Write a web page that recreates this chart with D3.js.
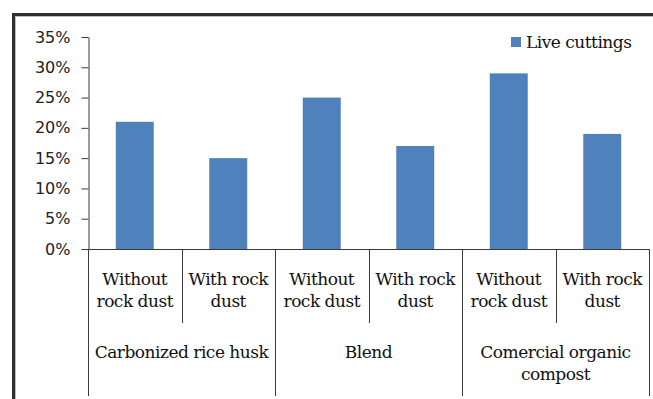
<!DOCTYPE html>
<html>
<head>
<meta charset="utf-8">
<script src="https://cdn.jsdelivr.net/npm/d3@7"></script>
<style>
  body { margin: 0; background: #fff; }
  svg { display: block; }
  text.serif { font-family: "DejaVu Serif", "Liberation Serif", serif; letter-spacing: -0.5px; }
  text.sans { font-family: "DejaVu Sans", sans-serif; }
</style>
</head>
<body>
<div id="chart"></div>
<script>
const width = 653;
const height = 399;

// data
const groups = ["Carbonized rice husk", "Blend", "Comercial organic compost"];
const treatments = ["Without rock dust", "With rock dust"];
const liveCuttings = [0.21, 0.15, 0.25, 0.17, 0.29, 0.19];
const yTicks = [0, 0.05, 0.10, 0.15, 0.20, 0.25, 0.30, 0.35];
const seriesName = "Live cuttings";

// label line breaks as in the original
const treatmentLines = { "Without rock dust": ["Without", "rock dust"], "With rock dust": ["With rock", "dust"] };
const groupLines = { "Carbonized rice husk": ["Carbonized rice husk"], "Blend": ["Blend"], "Comercial organic compost": ["Comercial organic", "compost"] };

const rows = [];
groups.forEach((g, gi) => treatments.forEach((t, ti) => {
    rows.push({ key: g + "|" + t, group: g, treatment: t, value: liveCuttings[gi * 2 + ti] });
}));

const plot = { left: 88, right: 649, top: 37, bottom: 249 };
const axisColor = "#3a3a3a";
const barColor = "#4f81bd";

const svg = d3.select("#chart")
    .append("svg")
    .attr("width", width)
    .attr("height", height);

// outer frame (top and left only are visible)
svg.append("path")
    .attr("d", `M13.5,${height} V14.5 H${width}`)
    .attr("fill", "none")
    .attr("stroke", "#2e2e2e")
    .attr("stroke-width", 3);
svg.append("path")
    .attr("d", `M15.5,${height} V16.5 H${width}`)
    .attr("fill", "none")
    .attr("stroke", "#bdbdbd")
    .attr("stroke-width", 1);

const x = d3.scaleBand()
    .domain(rows.map(d => d.key))
    .range([plot.left, plot.right])
    .paddingInner(0.594)
    .paddingOuter(0.297);

const step = x.step();
const x0 = plot.left;

const y = d3.scaleLinear()
    .domain([0, 0.35])
    .range([plot.bottom, plot.top]);

// bars
svg.selectAll("rect.bar")
    .data(rows)
    .enter()
    .append("rect")
    .attr("class", "bar")
    .attr("x", d => x(d.key))
    .attr("y", d => y(d.value))
    .attr("width", x.bandwidth())
    .attr("height", d => y(0) - y(d.value))
    .attr("fill", barColor);

// y axis
const yAxis = svg.append("g")
    .attr("transform", `translate(${plot.left + 0.5},0)`)
    .call(d3.axisLeft(y)
        .tickValues(yTicks)
        .tickFormat(d3.format(".0%"))
        .tickSize(7)
        .tickPadding(11)
        .tickSizeOuter(0));
yAxis.attr("font-family", null).attr("font-size", null);
yAxis.select(".domain").attr("stroke", axisColor);
yAxis.selectAll(".tick line").attr("stroke", axisColor);
yAxis.selectAll(".tick text")
    .attr("class", "sans")
    .style("font-size", "16px")
    .attr("fill", "#222");

// x baseline
svg.append("line")
    .attr("x1", plot.left).attr("x2", plot.right)
    .attr("y1", plot.bottom + 0.5).attr("y2", plot.bottom + 0.5)
    .attr("stroke", axisColor);

// category dividers: short between treatments, long between groups
const boundaries = d3.range(rows.length + 1);
svg.selectAll("line.divider")
    .data(boundaries)
    .enter()
    .append("line")
    .attr("class", "divider")
    .attr("x1", i => Math.round(x0 + i * step) + 0.5)
    .attr("x2", i => Math.round(x0 + i * step) + 0.5)
    .attr("y1", plot.bottom)
    .attr("y2", i => i % 2 === 0 ? 396 : 323)
    .attr("stroke", axisColor);

// treatment labels
const tLabels = svg.selectAll("text.treatment")
    .data(rows)
    .enter()
    .append("text")
    .attr("class", "treatment serif")
    .attr("text-anchor", "middle")
    .style("font-size", "17px")
    .attr("fill", "#111");
tLabels.selectAll("tspan")
    .data(d => treatmentLines[d.treatment].map(l => ({ line: l, cx: x(d.key) + x.bandwidth() / 2 })))
    .enter()
    .append("tspan")
    .attr("x", d => d.cx)
    .attr("y", (d, i) => 285 + i * 22)
    .text(d => d.line);

// group labels
const gLabels = svg.selectAll("text.group")
    .data(groups)
    .enter()
    .append("text")
    .attr("class", "group serif")
    .attr("text-anchor", "middle")
    .style("font-size", "17px")
    .attr("fill", "#111");
gLabels.selectAll("tspan")
    .data((g, gi) => groupLines[g].map(l => ({ line: l, cx: x0 + step * (gi * 2 + 1) })))
    .enter()
    .append("tspan")
    .attr("x", d => d.cx)
    .attr("y", (d, i) => 358 + i * 22)
    .text(d => d.line);

// legend
const legend = svg.append("g")
    .attr("transform", "translate(511,37)");
legend.append("rect")
    .attr("width", 10)
    .attr("height", 10)
    .attr("fill", barColor);
legend.append("text")
    .attr("class", "serif")
    .attr("x", 15)
    .attr("y", 11)
    .style("font-size", "17px")
    .attr("fill", "#111")
    .text(seriesName);
</script>
</body>
</html>
